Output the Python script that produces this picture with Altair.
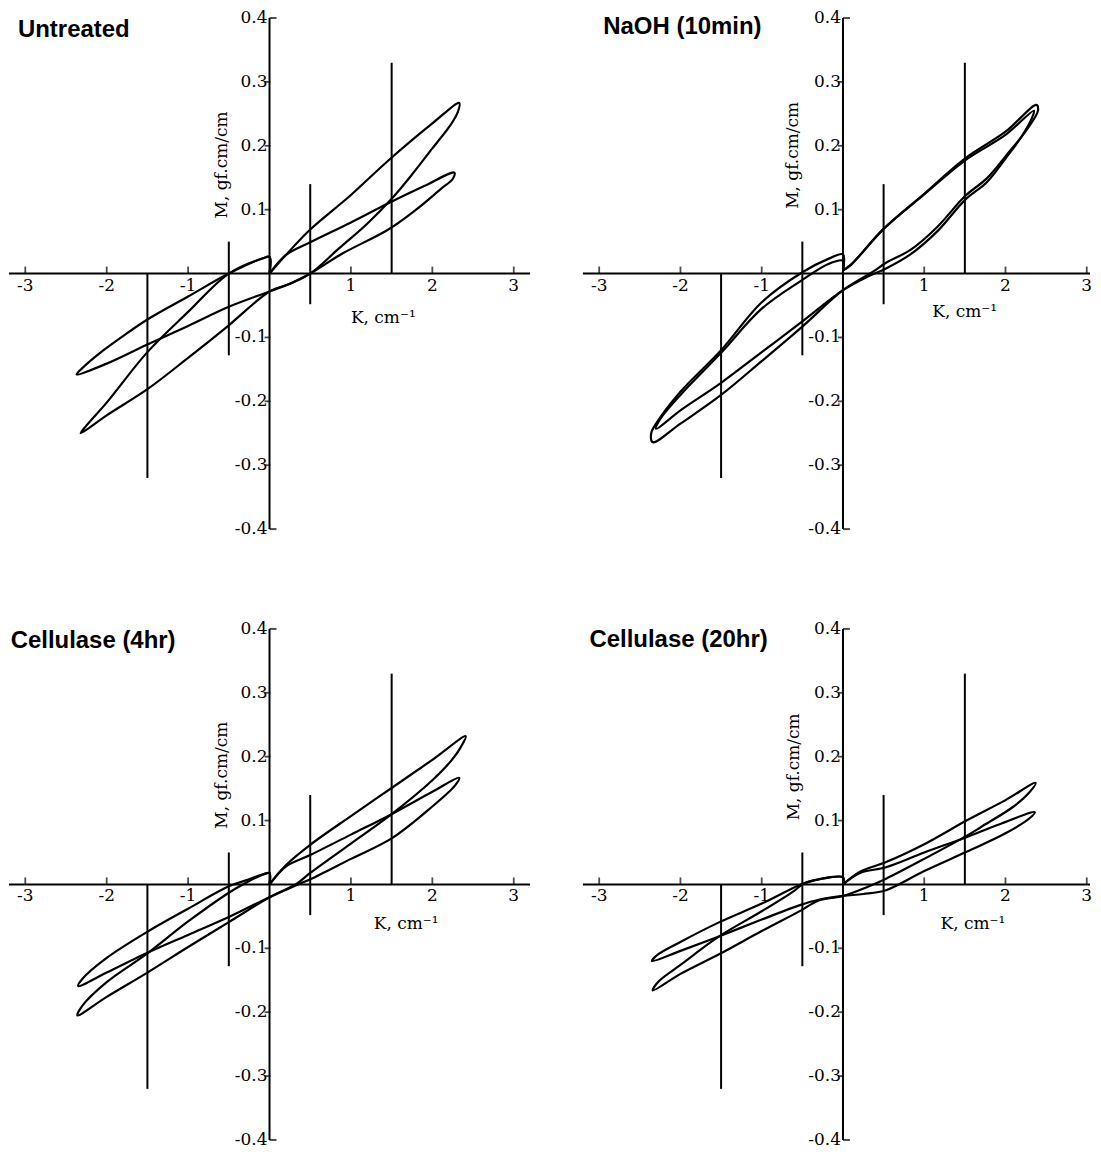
import altair as alt
import pandas as pd

# ---------------- data ----------------
PANEL_TITLES = ["Untreated", "NaOH (10min)", "Cellulase (4hr)", "Cellulase (20hr)"]

X_TICKS = [-3, -2, -1, 1, 2, 3]
Y_TICKS = [0.4, 0.3, 0.2, 0.1, -0.1, -0.2, -0.3, -0.4]

# reference verticals: K position, bottom M, top M
REF_K = [-1.5, -0.5, 0.5, 1.5]
REF_LO = [-0.32, -0.128, -0.048, 0.0]
REF_HI = [0.0, 0.05, 0.14, 0.33]

# Untreated
U_A_K = [0, 0.2, 0.5, 1.0, 1.46, 2.0, 2.33, 2.31, 2.22, 2.0, 1.75, 1.5, 1.2, 0.85, 0.5, 0.25, 0,
         -0.5, -1.0, -1.5, -2.0, -2.32, -2.25, -2.0, -1.5, -1.0, -0.5, -0.08, 0, 0]
U_A_M = [0, 0.029, 0.069, 0.123, 0.177, 0.235, 0.267, 0.252, 0.232, 0.196, 0.155, 0.117, 0.078, 0.039, 0.0, -0.016, -0.028,
         -0.081, -0.132, -0.181, -0.222, -0.25, -0.238, -0.202, -0.123, -0.06, 0.0, 0.024, 0.026, 0]
U_B_K = [0, 0.2, 0.5, 1.0, 1.46, 1.9, 2.27, 2.25, 2.11, 1.8, 1.46, 0.89, 0.5, 0.25, 0,
         -0.5, -1.0, -1.5, -2.0, -2.37, -2.3, -2.1, -1.8, -1.5, -1.0, -0.5, -0.08, 0, 0]
U_B_M = [0, 0.029, 0.049, 0.08, 0.110, 0.137, 0.158, 0.148, 0.133, 0.1, 0.069, 0.031, 0.0, -0.016, -0.028,
         -0.052, -0.082, -0.111, -0.141, -0.158, -0.148, -0.126, -0.098, -0.072, -0.036, 0.0, 0.024, 0.026, 0]

# NaOH (10min)
N_A_K = [0, 0.1, 0.5, 1.0, 1.5, 2.0, 2.38, 2.4, 2.26, 2.01, 1.77, 1.5, 1.16, 0.83, 0.53, 0.37, 0,
         -0.5, -1.0, -1.5, -2.0, -2.34, -2.36, -2.3, -2.0, -1.5, -1.0, -0.5, -0.18, 0, 0]
N_A_M = [0.005, 0.014, 0.07, 0.125, 0.18, 0.222, 0.264, 0.255, 0.225, 0.185, 0.149, 0.121, 0.073, 0.037, 0.017, 0.003, -0.026,
         -0.083, -0.137, -0.19, -0.235, -0.264, -0.25, -0.235, -0.185, -0.12, -0.045, 0.002, 0.023, 0.03, 0.005]
N_B_K = [0, 0.1, 0.5, 1.0, 1.5, 2.0, 2.35, 2.33, 2.2, 2.0, 1.77, 1.5, 1.16, 0.83, 0.53, 0.3, 0,
         -0.5, -1.0, -1.5, -2.0, -2.3, -2.25, -2.0, -1.5, -1.0, -0.5, -0.18, 0, 0]
N_B_M = [0.005, 0.014, 0.07, 0.124, 0.177, 0.217, 0.255, 0.245, 0.215, 0.18, 0.143, 0.115, 0.066, 0.03, 0.008, -0.005, -0.026,
         -0.075, -0.123, -0.171, -0.214, -0.243, -0.228, -0.19, -0.124, -0.055, -0.01, 0.015, 0.02, 0.005]

# Cellulase (4hr)
C4_A_K = [0, 0.2, 0.5, 1.0, 1.5, 2.0, 2.41, 2.35, 2.24, 2.0, 1.5, 1.0, 0.5, 0.32, 0,
          -0.5, -1.0, -1.5, -2.0, -2.36, -2.3, -2.0, -1.5, -1.0, -0.5, -0.3, -0.05, 0, 0]
C4_A_M = [0, 0.03, 0.062, 0.107, 0.151, 0.195, 0.232, 0.215, 0.195, 0.163, 0.11, 0.064, 0.018, 0.0, -0.02,
          -0.059, -0.098, -0.138, -0.176, -0.205, -0.19, -0.153, -0.108, -0.058, -0.013, 0.002, 0.017, 0.018, 0]
C4_B_K = [0, 0.2, 0.5, 1.0, 1.5, 2.0, 2.33, 2.28, 2.0, 1.5, 1.0, 0.5, 0.35, 0,
          -0.5, -1.0, -1.5, -2.0, -2.35, -2.3, -2.0, -1.5, -1.0, -0.5, -0.3, -0.05, 0, 0]
C4_B_M = [0, 0.028, 0.046, 0.078, 0.11, 0.145, 0.167, 0.155, 0.122, 0.072, 0.04, 0.008, 0.0, -0.02,
          -0.051, -0.079, -0.107, -0.138, -0.159, -0.148, -0.115, -0.074, -0.038, -0.003, 0.006, 0.017, 0.018, 0]

# Cellulase (20hr)
C20_A_K = [0, 0.21, 0.53, 1.0, 1.52, 2.0, 2.37, 2.3, 2.1, 1.7, 1.52, 1.0, 0.53, 0.3, 0,
           -0.3, -0.52, -1.0, -1.52, -2.0, -2.34, -2.27, -2.0, -1.52, -1.0, -0.6, -0.5, -0.3, 0, 0]
C20_A_M = [0, 0.02, 0.035, 0.063, 0.1, 0.132, 0.159, 0.145, 0.122, 0.09, 0.076, 0.04, 0.009, -0.004, -0.018,
           -0.025, -0.041, -0.073, -0.109, -0.14, -0.166, -0.152, -0.126, -0.081, -0.042, -0.01, 0.0, 0.008, 0.011, 0]
C20_B_K = [0, 0.21, 0.53, 1.0, 1.52, 1.9, 2.36, 2.3, 2.0, 1.52, 1.0, 0.53, 0.25, 0,
           -0.3, -0.52, -1.0, -1.52, -2.0, -2.35, -2.28, -2.0, -1.52, -1.0, -0.52, -0.37, 0, 0]
C20_B_M = [0, 0.018, 0.027, 0.05, 0.074, 0.093, 0.113, 0.104, 0.08, 0.051, 0.021, -0.009, -0.015, -0.018,
           -0.024, -0.032, -0.055, -0.081, -0.104, -0.12, -0.11, -0.09, -0.059, -0.03, 0.0, 0.006, 0.011, 0]

# ---------------- styling ----------------
SERIF = "DejaVu Serif"
SANS = "Liberation Sans"
H = 512
W_LEFT = 522
W_RIGHT = 508
XMIN = -3.2
YDOM = [-0.4, 0.4]


def panel(title, ak, am, bk, bm, xmax, width, title_pos, k_pos, m_pos):
    xs = alt.Scale(domain=[XMIN, xmax], nice=False, zero=False)
    ys = alt.Scale(domain=YDOM, nice=False, zero=False)

    def X(f):
        return alt.X(f, type="quantitative", scale=xs, axis=None)

    def Y(f):
        return alt.Y(f, type="quantitative", scale=ys, axis=None)

    # rules: axes + reference verticals
    rows = [dict(x=XMIN, x2=xmax, y=0.0, y2=0.0), dict(x=0.0, x2=0.0, y=YDOM[0], y2=YDOM[1])]
    for k, lo, hi in zip(REF_K, REF_LO, REF_HI):
        rows.append(dict(x=k, x2=k, y=lo, y2=hi))
    rules = alt.Chart(pd.DataFrame(rows)).mark_rule(color="black", strokeWidth=2).encode(
        x=X("x"), x2="x2", y=Y("y"), y2="y2")

    cur = pd.concat([
        pd.DataFrame({"K": ak, "M": am, "s": "A", "i": range(len(ak))}),
        pd.DataFrame({"K": bk, "M": bm, "s": "B", "i": range(len(bk))}),
    ])
    curves = alt.Chart(cur).mark_line(color="black", strokeWidth=2.2, strokeJoin="round",
                                      interpolate="catmull-rom").encode(
        x=X("K"), y=Y("M"), detail="s:N", order="i:Q")

    xt = pd.DataFrame({"x": X_TICKS, "y": 0.0, "t": [str(v) for v in X_TICKS]})
    xticks = alt.Chart(xt).mark_tick(orient="vertical", size=7, thickness=1.8, yOffset=-3.5,
                                     color="black").encode(x=X("x"), y=Y("y"))
    xlabels = alt.Chart(xt).mark_text(baseline="top", dy=4, font=SERIF, fontSize=17,
                                      color="black").encode(x=X("x"), y=Y("y"), text="t:N")

    yt = pd.DataFrame({"x": 0.0, "y": Y_TICKS, "t": ["%.1f" % v for v in Y_TICKS]})
    ends = yt[yt["y"].abs() > 0.35]
    mids = yt[yt["y"].abs() < 0.35]
    yticks_mid = alt.Chart(mids).mark_tick(orient="horizontal", size=6, thickness=1.8, xOffset=-2,
                                           color="black").encode(x=X("x"), y=Y("y"))
    yticks_end = alt.Chart(ends).mark_tick(orient="horizontal", size=7, thickness=2, xOffset=3.5,
                                           color="black").encode(x=X("x"), y=Y("y"))
    ylabels = alt.Chart(yt).mark_text(align="right", baseline="middle", dx=-2, font=SERIF, fontSize=17,
                                      color="black").encode(x=X("x"), y=Y("y"), text="t:N")

    tdf = pd.DataFrame({"x": [title_pos[0]], "y": [title_pos[1]], "t": [title]})
    ttl = alt.Chart(tdf).mark_text(align="left", baseline="alphabetic", font=SANS, fontWeight="bold",
                                   fontSize=24, color="black").encode(x=X("x"), y=Y("y"), text="t:N")

    kdf = pd.DataFrame({"x": [k_pos[0]], "y": [k_pos[1]], "t": ["K, cm\u207b\u00b9"]})
    ktl = alt.Chart(kdf).mark_text(align="left", baseline="alphabetic", font=SERIF, fontSize=17,
                                   color="black").encode(x=X("x"), y=Y("y"), text="t:N")

    mdf = pd.DataFrame({"x": [m_pos[0]], "y": [m_pos[1]], "t": ["M, gf.cm/cm"]})
    mtl = alt.Chart(mdf).mark_text(align="center", baseline="middle", angle=270, font=SERIF, fontSize=17,
                                   color="black").encode(x=X("x"), y=Y("y"), text="t:N")

    return alt.layer(rules, curves, xticks, xlabels, yticks_mid, yticks_end, ylabels, ttl, ktl, mtl).properties(
        width=width, height=H)


p1 = panel(PANEL_TITLES[0], U_A_K, U_A_M, U_B_K, U_B_M, 3.2, W_LEFT,
           (-3.09, 0.37), (1.0, -0.078), (-0.58, 0.17))
p2 = panel(PANEL_TITLES[1], N_A_K, N_A_M, N_B_K, N_B_M, 3.04, W_RIGHT,
           (-2.95, 0.375), (1.1, -0.068), (-0.62, 0.185))
p3 = panel(PANEL_TITLES[2], C4_A_K, C4_A_M, C4_B_K, C4_B_M, 3.2, W_LEFT,
           (-3.18, 0.37), (1.28, -0.07), (-0.58, 0.171))
p4 = panel(PANEL_TITLES[3], C20_A_K, C20_A_M, C20_B_K, C20_B_M, 3.04, W_RIGHT,
           (-3.12, 0.372), (1.2, -0.07), (-0.6, 0.184))

chart = alt.concat(p1, p2, p3, p4, columns=2, spacing={"row": 100, "column": 53}, bounds="flush").resolve_scale(
    x="independent", y="independent"
).properties(
    padding={"left": 0, "right": 0, "top": 0, "bottom": 0}
).configure_view(stroke=None)

chart.save("out.html", embed_options={"renderer": "svg", "actions": False})
